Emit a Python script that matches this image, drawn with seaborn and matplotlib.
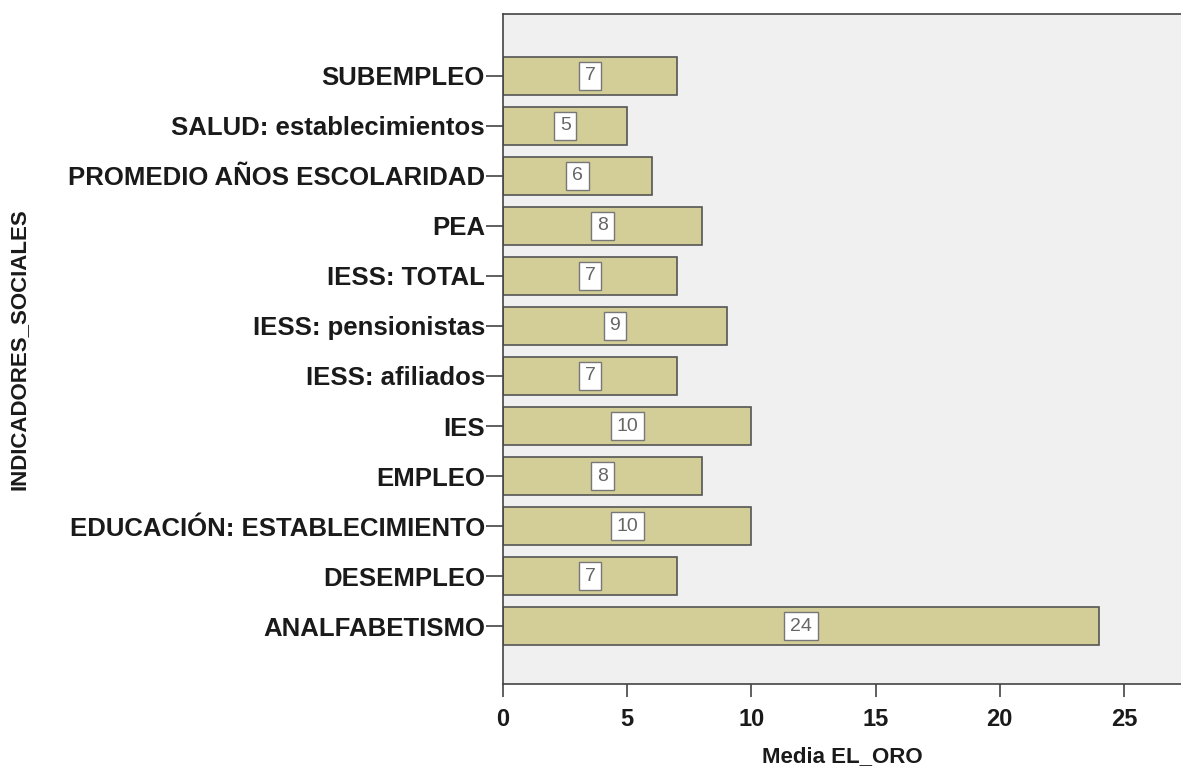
import matplotlib
matplotlib.use("Agg")
import matplotlib.pyplot as plt
import numpy as np
import pandas as pd
import seaborn as sns

indicadores = ["SUBEMPLEO", "SALUD: establecimientos", "PROMEDIO AÑOS ESCOLARIDAD",
               "PEA", "IESS: TOTAL", "IESS: pensionistas", "IESS: afiliados", "IES",
               "EMPLEO", "EDUCACIÓN: ESTABLECIMIENTO", "DESEMPLEO", "ANALFABETISMO"]
media_el_oro = [7, 5, 6, 8, 7, 9, 7, 10, 8, 10, 7, 24]

df = pd.DataFrame({"INDICADORES_SOCIALES": indicadores, "Media EL_ORO": media_el_oro})

sns.set_style("ticks")
plt.rcParams['font.family'] = ['Liberation Sans', 'DejaVu Sans']

fig = plt.figure(figsize=(11.81, 7.67), dpi=100)
ax = fig.add_axes([0.426, 0.108, 0.574, 0.874])
ax.set_facecolor("#F0F0F0")

sns.barplot(data=df, x="Media EL_ORO", y="INDICADORES_SOCIALES", order=indicadores,
            color="#D3CE97", saturation=1, edgecolor="#555555", linewidth=1.2,
            width=0.76, ax=ax)

ax.bar_label(ax.containers[0], labels=[str(v) for v in media_el_oro], label_type="center",
             fontsize=14, color="#666666", family=['Liberation Sans Narrow', 'Liberation Sans'],
             bbox=dict(boxstyle="square,pad=0.3", facecolor="white", edgecolor="#777777", linewidth=1))

ax.set_xlim(0, 27.3)
ax.set_ylim(12.16, -1.24)
ax.set_xticks([0, 5, 10, 15, 20, 25])

for s in ["left", "bottom", "top"]:
    ax.spines[s].set_color("#444444")
    ax.spines[s].set_linewidth(1.2)
ax.spines["right"].set_visible(False)

ax.tick_params(axis="y", length=12, width=1.2, color="#444444", labelsize=18.5, pad=1)
ax.tick_params(axis="x", length=9, width=1.2, color="#444444", labelsize=17, pad=8)
for lab in ax.get_yticklabels() + ax.get_xticklabels():
    lab.set_fontweight("bold")
    lab.set_color("#1a1a1a")

ax.set_xlabel("Media EL_ORO", fontsize=16, fontweight="bold", color="#1a1a1a")
ax.xaxis.set_label_coords(0.5, -0.093)
ax.set_ylabel("INDICADORES_SOCIALES", fontsize=16, fontweight="bold", color="#1a1a1a")
ax.yaxis.set_label_coords(-0.698, 0.5)

fig.savefig("out.png", dpi=100)
